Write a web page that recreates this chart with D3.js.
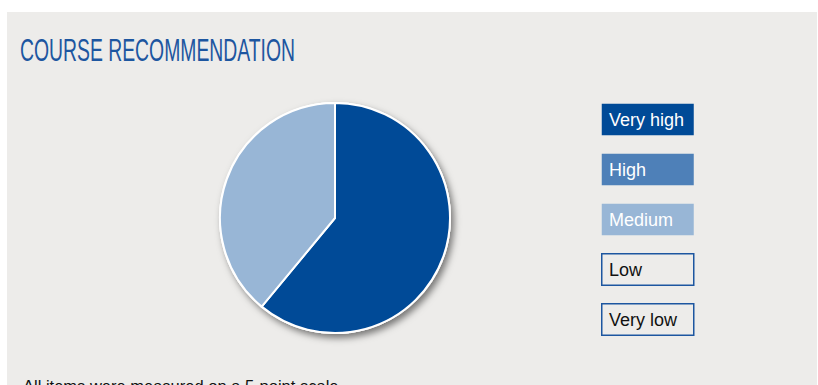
<!DOCTYPE html>
<html>
<head>
<meta charset="utf-8">
<script src="https://cdn.jsdelivr.net/npm/d3@7"></script>
<style>
  body { margin: 0; background: #fff; }
  svg { display: block; font-family: "Liberation Sans", Arial, sans-serif; }
</style>
</head>
<body>
<svg width="818" height="385"></svg>
<script>
// data
const categories = ["Very high", "High", "Medium", "Low", "Very low"];
const values = [61, 0, 39, 0, 0];
const colors = ["#004a97", "#4e80b8", "#98b6d6", "none", "none"];
const textColors = ["#fff", "#fff", "#fff", "#111", "#111"];

const width = 818;
const height = 385;
const canvas = d3.select("svg");

// grey panel
canvas.append("rect")
  .attr("x", 7).attr("y", 12)
  .attr("width", 810).attr("height", height)
  .attr("fill", "#edecea");

canvas.append("text")
  .attr("x", 20).attr("y", 61)
  .attr("fill", "#1d56a0")
  .attr("font-size", 32)
  .attr("font-family", "'Liberation Sans Narrow', 'Liberation Sans', Arial, sans-serif")
  .attr("textLength", 275)
  .attr("lengthAdjust", "spacingAndGlyphs")
  .text("COURSE RECOMMENDATION");

// shadow filter
const defs = canvas.append("defs");
const f = defs.append("filter").attr("id", "shadow")
  .attr("x", "-20%").attr("y", "-20%").attr("width", "140%").attr("height", "140%");
f.append("feDropShadow")
  .attr("dx", 3).attr("dy", 4).attr("stdDeviation", 3.5)
  .attr("flood-color", "#000").attr("flood-opacity", 0.5);

const cx = 335, cy = 218, r = 115;
const pieData = categories.map((c, i) => ({ cat: c, value: values[i], color: colors[i] }));
const pie = d3.pie().sort(null).value(d => d.value);
const arc = d3.arc().innerRadius(0).outerRadius(r);

const pieG = canvas.append("g").attr("transform", `translate(${cx},${cy})`);
pieG.append("circle").attr("r", r + 1).attr("fill", "#fff").attr("filter", "url(#shadow)");
pieG.selectAll("path")
  .data(pie(pieData).filter(d => d.data.value > 0))
  .enter()
  .append("path")
  .attr("d", arc)
  .attr("fill", d => d.data.color)
  .attr("stroke", "#fff")
  .attr("stroke-width", 2)
  .attr("stroke-linejoin", "round");

// legend
const legendY = d3.scaleBand().domain(categories).range([103, 336]).paddingInner(0.34).paddingOuter(0);
const legend = canvas.selectAll("g.leg")
  .data(categories)
  .enter()
  .append("g")
  .attr("class", "leg")
  .attr("transform", d => `translate(601,${legendY(d)})`);

legend.append("rect")
  .attr("x", 0.75).attr("y", 0.75)
  .attr("width", 92).attr("height", legendY.bandwidth() - 1.5)
  .attr("fill", (d, i) => colors[i] === "none" ? "#edecea" : colors[i])
  .attr("stroke", (d, i) => colors[i] === "none" ? "#1d56a0" : "none")
  .attr("stroke-width", 1.5);

legend.append("text")
  .attr("x", 8)
  .attr("y", legendY.bandwidth() / 2 + 6.5)
  .attr("font-size", 18)
  .attr("fill", (d, i) => textColors[i])
  .text(d => d);

canvas.append("text")
  .attr("x", 23).attr("y", 392)
  .attr("font-size", 16.5)
  .attr("fill", "#111")
  .text("All items were measured on a 5-point scale.");
</script>
</body>
</html>
